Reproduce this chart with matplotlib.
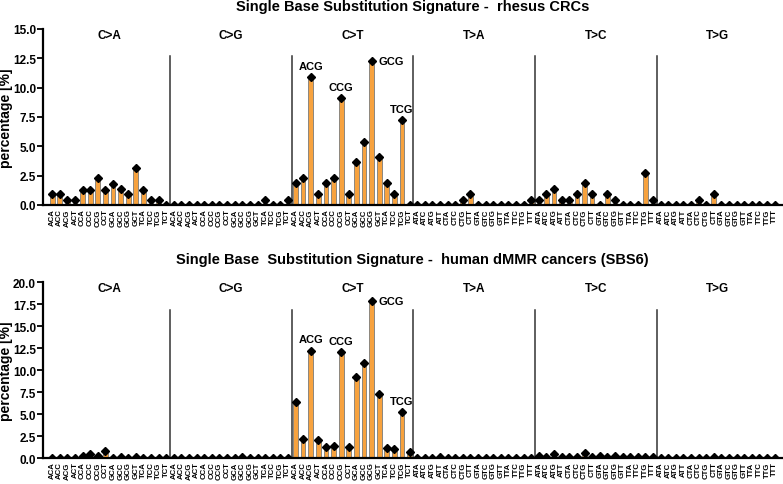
import matplotlib.pyplot as plt
import numpy as np

plt.rcParams['font.family'] = ['Liberation Sans', 'DejaVu Sans']

# 突变类型与三核苷酸上下文
mut_types = ['C>A', 'C>G', 'C>T', 'T>A', 'T>C', 'T>G']
bases = ['A', 'C', 'G', 'T']
contexts = []
for m in mut_types:
    for a in bases:
        for b in bases:
            contexts.append(a + m[0] + b)

# 猕猴 CRC 的数值（%）
rhesus_CA = [0.94, 0.94, 0.43, 0.43, 1.3, 1.3, 2.27, 1.3, 1.8, 1.36, 0.94, 3.15, 1.3, 0.43, 0.43, 0.0]
rhesus_CG = [0, 0, 0, 0, 0, 0, 0, 0, 0, 0, 0, 0, 0.43, 0, 0, 0.43]
rhesus_CT = [1.85, 2.27, 10.9, 0.94, 1.85, 2.27, 9.1, 0.94, 3.64, 5.4, 12.27, 4.12, 1.85, 0.9, 7.24, 0.0]
rhesus_TA = [0, 0, 0, 0, 0, 0, 0.43, 0.94, 0, 0, 0, 0, 0, 0, 0, 0.43]
rhesus_TC = [0.43, 0.94, 1.36, 0.43, 0.43, 0.94, 1.85, 0.94, 0, 0.94, 0.43, 0, 0, 0, 2.76, 0.43]
rhesus_TG = [0, 0, 0, 0, 0, 0.43, 0, 0.94, 0, 0, 0, 0, 0, 0, 0, 0]

# 人类 dMMR 癌症 (SBS6)
human_CA = [0.05, 0.05, 0.05, 0.05, 0.2, 0.4, 0.2, 0.85, 0.05, 0.1, 0.05, 0.15, 0.05, 0.05, 0.05, 0.05]
human_CG = [0.05, 0.05, 0.05, 0.05, 0.05, 0.05, 0.05, 0.05, 0.05, 0.1, 0.05, 0.05, 0.05, 0.05, 0.05, 0.05]
human_CT = [6.34, 2.16, 12.22, 2.0, 1.2, 1.33, 12.1, 1.2, 9.26, 10.8, 17.84, 7.32, 1.14, 0.99, 5.24, 0.68]
human_TA = [0.05, 0.05, 0.05, 0.1, 0.05, 0.05, 0.05, 0.05, 0.05, 0.05, 0.05, 0.05, 0.05, 0.05, 0.05, 0.05]
human_TC = [0.27, 0.1, 0.45, 0.1, 0.1, 0.15, 0.53, 0.1, 0.2, 0.1, 0.2, 0.1, 0.1, 0.1, 0.15, 0.15]
human_TG = [0.05, 0.05, 0.05, 0.05, 0.05, 0.05, 0.05, 0.1, 0.05, 0.05, 0.05, 0.05, 0.05, 0.05, 0.05, 0.05]

rhesus = rhesus_CA + rhesus_CG + rhesus_CT + rhesus_TA + rhesus_TC + rhesus_TG
human = human_CA + human_CG + human_CT + human_TA + human_TC + human_TG

titles = ['Single Base Substitution Signature -  rhesus CRCs',
          'Single Base  Substitution Signature -  human dMMR cancers (SBS6)']
title_y = [0.9856, 0.464]
ymaxs = [15, 20]
highlight = ['ACG', 'CCG', 'GCG', 'TCG']

fig = plt.figure(figsize=(7.83, 4.85), dpi=100)
ax1 = fig.add_axes([0.055, 0.5753, 0.944, 0.3629])
ax2 = fig.add_axes([0.055, 0.0536, 0.944, 0.3623])

x = np.arange(len(contexts))
for ax, vals, title, ty, ymax in zip([ax1, ax2], [rhesus, human], titles, title_y, ymaxs):
    vals = np.array(vals)
    ax.bar(x, vals, width=0.62, color='#F7A23E', edgecolor='#7a7a7a', linewidth=0.6, zorder=2)
    ax.errorbar(x, vals, yerr=ymax * 0.012, fmt='none', ecolor='black', elinewidth=0.8, capsize=0, zorder=3)
    ax.plot(x, vals, 'D', color='black', markersize=3.8, zorder=4)
    ax.set_xlim(-1.2, 96.0)
    ax.set_ylim(0, ymax)
    ax.set_yticks(np.arange(0, ymax + 0.1, 2.5))
    ax.set_yticklabels(['%.1f' % v for v in np.arange(0, ymax + 0.1, 2.5)], fontweight='bold', fontsize=8.5)
    ax.set_xticks(x)
    ax.set_xticklabels(contexts, rotation=90, fontsize=5.6, fontweight='bold')
    ax.tick_params(axis='x', length=0, pad=2.5)
    ax.tick_params(axis='y', width=1.3, length=4, direction='out', pad=1)
    ax.spines['top'].set_visible(False)
    ax.spines['right'].set_visible(False)
    ax.spines['left'].set_linewidth(1.6)
    ax.spines['bottom'].set_linewidth(1.6)
    ax.set_ylabel('percentage [%]', fontweight='bold', fontsize=10)
    ax.yaxis.set_label_coords(-0.04, 0.5)
    fig.text(0.055 + 0.944 / 2, ty, title, ha='center', va='center', fontweight='bold', fontsize=10.5)
    # 分组竖线和标签
    for k in range(6):
        if k > 0:
            ax.plot([16 * k - 0.5, 16 * k - 0.5], [0, ymax * 0.845], color='#333333', linewidth=1.1, zorder=1)
        ax.text(16 * k + 7.5, ymax * 0.965, mut_types[k], ha='center', va='center',
                fontweight='bold', fontsize=8.5)
    # 标注 CpG 位点
    for name in highlight:
        i = 32 + contexts[32:48].index(name)
        if name == 'GCG':
            ax.text(i + 0.9, vals[i], name, ha='left', va='center', fontweight='bold', fontsize=8)
        else:
            ax.text(i, vals[i] + ymax * 0.035, name, ha='center', va='bottom', fontweight='bold', fontsize=8)

fig.savefig('out.png', dpi=100)
